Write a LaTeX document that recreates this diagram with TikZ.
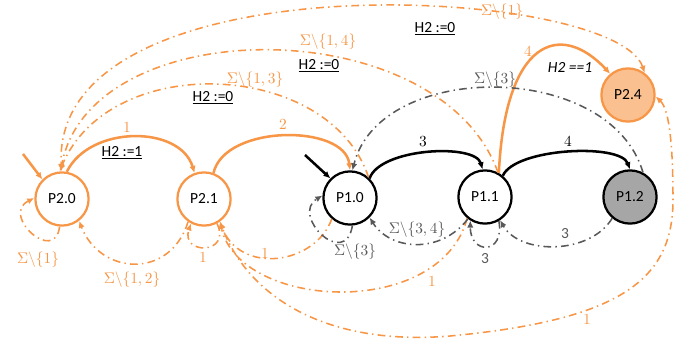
\documentclass[tikz,border=0pt]{standalone}
\usepackage{amsmath,amssymb}
\usepackage{xcolor}
\usepackage{fontspec}
\usepackage{tikz}
\usetikzlibrary{arrows.meta, positioning, calc}

\newfontfamily\calibri{Carlito}
\definecolor{autorange}{HTML}{F79646}
\definecolor{autopeach}{HTML}{FAC090}
\definecolor{autogray}{HTML}{595959}
\definecolor{autofill}{HTML}{A6A6A6}

\begin{document}
\begin{tikzpicture}[x=0.025cm,y=-0.025cm,>={Latex[length=5pt,width=4.5pt]},
    state/.style={circle,draw,line width=1.6pt,minimum size=1.33cm,inner sep=0pt,
                  font=\calibri\fontsize{11}{13}\selectfont},
    solidedge/.style={->,line width=1.8pt},
    dashdot/.style={->,line width=1.1pt,dash pattern=on 5.5pt off 3pt on 1pt off 3pt},
    sigmalbl/.style={font=\fontsize{11}{13}\selectfont},
    hlbl/.style={font=\calibri\fontsize{11}{13}\selectfont}]

\useasboundingbox (0,0) rectangle (699,344);

%---------------- States ----------------%
\node[state,draw=autorange] (P20) at (62,199) {P2.0};
\node[state,draw=autorange] (P21) at (204,199) {P2.1};
\node[state] (P10) at (350,198) {P1.0};
\node[state] (P11) at (485,197) {P1.1};
\node[state,fill=autofill] (P12) at (630,197) {P1.2};
\node[state,draw=autorange,fill=autopeach] (P24) at (628,95) {P2.4};

\coordinate (in20) at (23,154);
\coordinate (in10) at (305,155);

%---------------- Initial arrows ----------------%
\draw[solidedge,autorange] (in20) -- (P20.135);
\draw[solidedge] (in10) -- (P10.135);

%---------------- Solid transitions ----------------%
\draw[solidedge,autorange] (P20.80) .. controls (90,125) and (180,125) .. (P21.110);
\draw[solidedge,autorange] (P21.70) .. controls (225,124) and (345,124) .. (P10.90);
\draw[solidedge] (P10.45) .. controls (380,148) and (475,143) .. (P11.95);
\draw[solidedge] (P11.50) .. controls (515,148) and (620,143) .. (P12.90);
\draw[solidedge,autorange] (P11.60) .. controls (505,40) and (560,20) .. (P24.130);

%---------------- Back to P2.0 ----------------%
\draw[dashdot,autorange,<->] (P24.53) .. controls (615,-15) and (50,-45) .. (P20.91);
\draw[dashdot,autorange] (P11.62) .. controls (440,10) and (90,10) .. (P20.93);
\draw[dashdot,autorange] (P10.48) .. controls (330,60) and (110,50) .. (P20.95);
\draw[dashdot,autorange] (P20.-95) .. controls (55,265) and (0,215) .. (P20.178);
\draw[dashdot,autorange] (P21.-125) .. controls (170,280) and (100,275) .. (P20.-52);

%---------------- Back to P2.1 ----------------%
\draw[dashdot,autorange] (P21.-62) .. controls (232,255) and (180,255) .. (P21.-118);
\draw[dashdot,autorange] (P10.-131) .. controls (315,265) and (240,275) .. (P21.-55);
\draw[dashdot,autorange] (P11.-130) .. controls (440,320) and (240,310) .. (P21.-55);
\draw[dashdot,autorange,<->] (P24.-3) .. controls (670,110) and (673,150) .. (673,200)
      .. controls (673,280) and (620,320) .. (450,336)
      .. controls (330,346) and (250,300) .. (P21.-55);

%---------------- Gray transitions ----------------%
\draw[dashdot,autogray] (P12.62) .. controls (610,60) and (380,60) .. (P10.85);
\draw[dashdot,autogray] (P10.-85) .. controls (345,270) and (290,215) .. (P10.175);
\draw[dashdot,autogray] (P11.-128) .. controls (440,255) and (390,250) .. (P10.-45);
\draw[dashdot,autogray] (P11.-60) .. controls (505,255) and (470,255) .. (P11.-122);
\draw[dashdot,autogray] (P12.-130) .. controls (590,255) and (520,255) .. (P11.-57);

%---------------- Labels ----------------%
\node[sigmalbl,autorange] (l201) at (127,128) {$1$};
\node[hlbl] (h201) at (122,153) {\underline{H2 :=1}};
\node[sigmalbl,autorange] (l2110) at (283,125) {$2$};
\node[sigmalbl] (l1011) at (423,142) {$3$};
\node[sigmalbl] (l1112) at (568,142) {$4$};
\node[sigmalbl,autorange] (l1124) at (528,52) {$4$};
\node[hlbl] (h1124) at (570,67) {\textit{H2 ==1}};
\node[sigmalbl,autorange] (l2420) at (502,12) {$\Sigma\backslash\{1\}$};
\node[hlbl] (h2420) at (435,29) {\underline{H2 :=0}};
\node[sigmalbl,autorange] (l1120) at (328,42) {$\Sigma\backslash\{1,4\}$};
\node[hlbl] (h1120) at (319,66) {\underline{H2 :=0}};
\node[sigmalbl,autorange] (l1020) at (255,80) {$\Sigma\backslash\{1,3\}$};
\node[hlbl] (h1020) at (213,98) {\underline{H2 :=0}};
\node[sigmalbl,autogray] (l1210) at (495,80) {$\Sigma\backslash\{3\}$};
\node[sigmalbl,autogray] (l1110) at (417,230) {$\Sigma\backslash\{3,4\}$};
\node[sigmalbl,autogray] (l1010) at (355,252) {$\Sigma\backslash\{3\}$};
\node[hlbl,autogray] (l1111) at (485,259) {3};
\node[hlbl,autogray] (l1211) at (565,234) {3};
\node[sigmalbl,autorange] (l1021) at (265,254) {$1$};
\node[sigmalbl,autorange] (l1121) at (432,282) {$1$};
\node[sigmalbl,autorange] (l2421) at (587,320) {$1$};
\node[sigmalbl,autorange] (l2121) at (203,258) {$1$};
\node[sigmalbl,autorange] (l2120) at (132,280) {$\Sigma\backslash\{1,2\}$};
\node[sigmalbl,autorange] (l2020) at (38,260) {$\Sigma\backslash\{1\}$};

\end{tikzpicture}
\end{document}
